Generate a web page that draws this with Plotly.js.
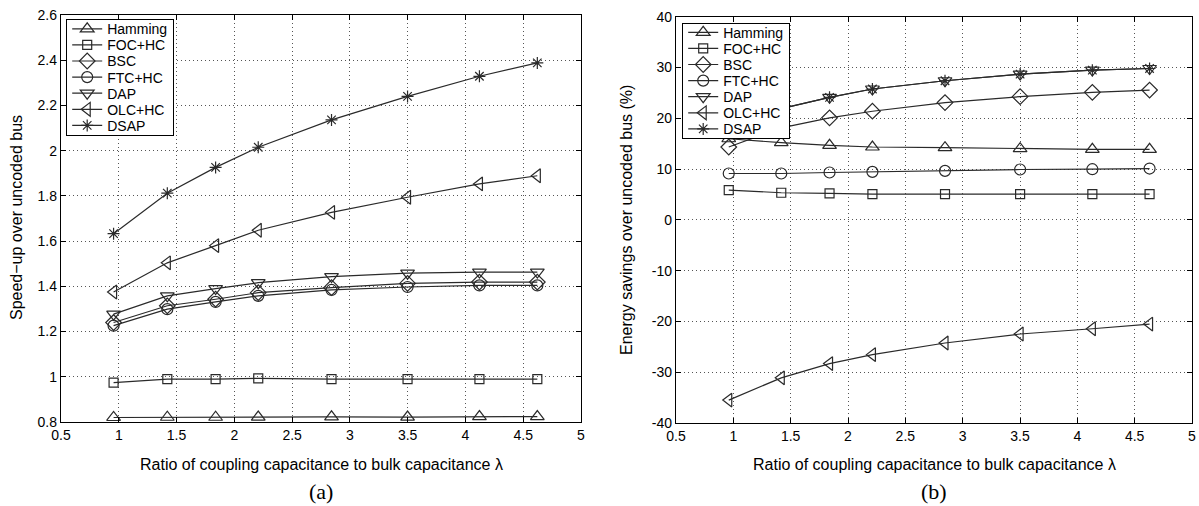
<!DOCTYPE html>
<html>
<head>
<meta charset="utf-8">
<script src="https://cdn.plot.ly/plotly-3.0.1.min.js"></script>
<style>
html,body{margin:0;padding:0;background:#fff;}
#chart{width:1199px;height:506px;}
</style>
</head>
<body>
<div id="chart"></div>
<script>
// ---- data ----
const seriesNames = ["Hamming", "FOC+HC", "BSC", "FTC+HC", "DAP", "OLC+HC", "DSAP"];
const lambdaA = [0.955, 1.42, 1.838, 2.207, 2.841, 3.499, 4.121, 4.622];
const lambdaB = [0.96, 1.418, 1.839, 2.213, 2.846, 3.501, 4.131, 4.63];

// (a) speed-up over uncoded bus
const speedHamming = [0.82, 0.821, 0.821, 0.822, 0.823, 0.822, 0.824, 0.824];
const speedFOC = [0.974, 0.99, 0.99, 0.993, 0.99, 0.99, 0.99, 0.99];
const speedBSC = [1.24, 1.314, 1.343, 1.372, 1.394, 1.413, 1.419, 1.419];
const speedFTC = [1.226, 1.299, 1.331, 1.358, 1.384, 1.397, 1.404, 1.404];
const speedDAP = [1.277, 1.358, 1.39, 1.416, 1.443, 1.458, 1.463, 1.463];
const speedOLC = [1.375, 1.504, 1.58, 1.648, 1.727, 1.794, 1.853, 1.889];
const speedDSAP = [1.633, 1.812, 1.926, 2.015, 2.136, 2.24, 2.329, 2.388];

// (b) energy savings over uncoded bus (%)
const energyHamming = [15.97, 15.19, 14.67, 14.34, 14.21, 14.02, 13.89, 13.89];
const energyFOC = [5.86, 5.34, 5.21, 5.08, 5.08, 5.08, 5.08, 5.08];
const energyBSC = [14.34, 18.1, 20.08, 21.39, 23.09, 24.26, 25.11, 25.56];
const energyFTC = [9.13, 9.13, 9.32, 9.45, 9.65, 9.91, 9.97, 10.1];
const energyDAP = [17.8, 21.9, 24.13, 25.76, 27.39, 28.7, 29.48, 29.8];
const energyOLC = [-35.49, -31.11, -28.3, -26.54, -24.25, -22.48, -21.44, -20.52];
const energyDSAP = [17.8, 21.9, 24.13, 25.76, 27.39, 28.7, 29.48, 29.8];

const xTickVals = [0.5, 1, 1.5, 2, 2.5, 3, 3.5, 4, 4.5, 5];
const xTickText = ["0.5", "1", "1.5", "2", "2.5", "3", "3.5", "4", "4.5", "5"];
const yTickValsA = [0.8, 1, 1.2, 1.4, 1.6, 1.8, 2, 2.2, 2.4, 2.6];
const yTickTextA = ["0.8", "1", "1.2", "1.4", "1.6", "1.8", "2", "2.2", "2.4", "2.6"];
const yTickValsB = [-40, -30, -20, -10, 0, 10, 20, 30, 40];
const yTickTextB = ["-40", "-30", "-20", "-10", "0", "10", "20", "30", "40"];

const xTitle = "Ratio of coupling capacitance to bulk capacitance \u03bb";
const yTitleA = "Speed\u2212up over uncoded bus";
const yTitleB = "Energy savings over uncoded bus (%)";

// ---- styles ----
const ink = "#2a2a2a";
const symbols = ["triangle-up-open", "square-open", "diamond-open", "circle-open", "triangle-down-open", "triangle-left-open", "asterisk-open"];
const sizes = [12, 9, 12, 11, 12, 12, 10];
const speedData = [speedHamming, speedFOC, speedBSC, speedFTC, speedDAP, speedOLC, speedDSAP];
const energyData = [energyHamming, energyFOC, energyBSC, energyFTC, energyDAP, energyOLC, energyDSAP];

const traces = [];
seriesNames.forEach((name, i) => {
  traces.push({
    x: lambdaA, y: speedData[i], name: name, type: "scatter", mode: "lines+markers",
    xaxis: "x", yaxis: "y", legend: "legend",
    line: {color: ink, width: 1.2},
    marker: {symbol: symbols[i], size: sizes[i], color: ink, line: {color: ink, width: 1.2}}
  });
});
seriesNames.forEach((name, i) => {
  traces.push({
    x: lambdaB, y: energyData[i], name: name, type: "scatter", mode: "lines+markers",
    xaxis: "x2", yaxis: "y2", legend: "legend2",
    line: {color: ink, width: 1.2},
    marker: {symbol: symbols[i], size: sizes[i], color: ink, line: {color: ink, width: 1.2}}
  });
});

const tickFont = {family: "Liberation Sans, Arial, sans-serif", size: 14, color: "#000"};
function xAxis(domain, anchor) {
  return {
    domain: domain, anchor: anchor, range: [0.5, 5], tickvals: xTickVals, ticktext: xTickText,
    showgrid: true, gridcolor: "#555", griddash: "1px,3px", gridwidth: 1, zeroline: false,
    showline: true, linecolor: "#000", linewidth: 1.2, mirror: "allticks",
    ticks: "inside", ticklen: 5, tickcolor: "#000", tickfont: tickFont, automargin: false
  };
}
function yAxis(domain, anchor, range, vals, text) {
  return {
    domain: domain, anchor: anchor, range: range, tickvals: vals, ticktext: text,
    showgrid: true, gridcolor: "#555", griddash: "1px,3px", gridwidth: 1, zeroline: false,
    showline: true, linecolor: "#000", linewidth: 1.2, mirror: "allticks",
    ticks: "inside", ticklen: 5, tickcolor: "#000", tickfont: tickFont, automargin: false
  };
}
const legendStyle = {
  bgcolor: "#fff", bordercolor: "#000", borderwidth: 1.2,
  font: {family: "Liberation Sans, Arial, sans-serif", size: 14, color: "#000"},
  xanchor: "left", yanchor: "top", tracegroupgap: 0, itemwidth: 30
};

const textFont = {family: "Liberation Sans, Arial, sans-serif", size: 16, color: "#000"};
const capFont = {family: "Liberation Serif, Times New Roman, serif", size: 22, color: "#000"};

const layout = {
  width: 1199, height: 506,
  margin: {l: 0, r: 0, t: 0, b: 0},
  paper_bgcolor: "#fff", plot_bgcolor: "#fff",
  showlegend: true,
  xaxis: xAxis([61/1199, 581/1199], "y"),
  yaxis: yAxis([84/506, 491/506], "x", [0.8, 2.6], yTickValsA, yTickTextA),
  xaxis2: xAxis([676/1199, 1192/1199], "y2"),
  yaxis2: yAxis([83/506, 489.3/506], "x2", [-40, 40], yTickValsB, yTickTextB),
  legend: Object.assign({x: 66/1199, y: 1 - 19/506}, legendStyle),
  legend2: Object.assign({x: 682/1199, y: 1 - 23/506}, legendStyle),
  annotations: [
    {xref: "paper", yref: "paper", x: 321/1199, y: 1 - 464/506, text: xTitle, showarrow: false, font: textFont, xanchor: "center", yanchor: "middle"},
    {xref: "paper", yref: "paper", x: 934/1199, y: 1 - 464/506, text: xTitle, showarrow: false, font: textFont, xanchor: "center", yanchor: "middle"},
    {xref: "paper", yref: "paper", x: 17/1199, y: 1 - 218/506, text: yTitleA, textangle: -90, showarrow: false, font: textFont, xanchor: "center", yanchor: "middle"},
    {xref: "paper", yref: "paper", x: 627/1199, y: 1 - 220/506, text: yTitleB, textangle: -90, showarrow: false, font: textFont, xanchor: "center", yanchor: "middle"},
    {xref: "paper", yref: "paper", x: 321/1199, y: 1 - 491/506, text: "(a)", showarrow: false, font: capFont, xanchor: "center", yanchor: "middle"},
    {xref: "paper", yref: "paper", x: 934/1199, y: 1 - 491/506, text: "(b)", showarrow: false, font: capFont, xanchor: "center", yanchor: "middle"}
  ]
};

// tighten legend row spacing to match the compact legends of the original figure
function compactLegend(gd, cls, step, firstCenter) {
  const lg = gd.querySelector("g." + cls);
  if (!lg) return;
  const items = lg.querySelectorAll("g.traces");
  items.forEach((it, i) => {
    const tr = it.getAttribute("transform") || "";
    const m = tr.match(/translate\(\s*([-\d.e]+)[ ,]+([-\d.e]+)\s*\)/);
    const x = m ? parseFloat(m[1]) : 0;
    it.setAttribute("transform", "translate(" + x + "," + (firstCenter + i * step) + ")");
  });
  const h = firstCenter * 2 + (items.length - 1) * step;
  const bg = lg.querySelector("rect.bg");
  if (bg) bg.setAttribute("height", h);
  lg.querySelectorAll("clipPath rect").forEach(r => r.setAttribute("height", h));
}

const gd = document.getElementById("chart");
Plotly.newPlot(gd, traces, layout, {displayModeBar: false, staticPlot: true}).then(() => {
  compactLegend(gd, "legend", 16.1, 9.8);
  compactLegend(gd, "legend2", 16.1, 9.3);
});
</script>
</body>
</html>
